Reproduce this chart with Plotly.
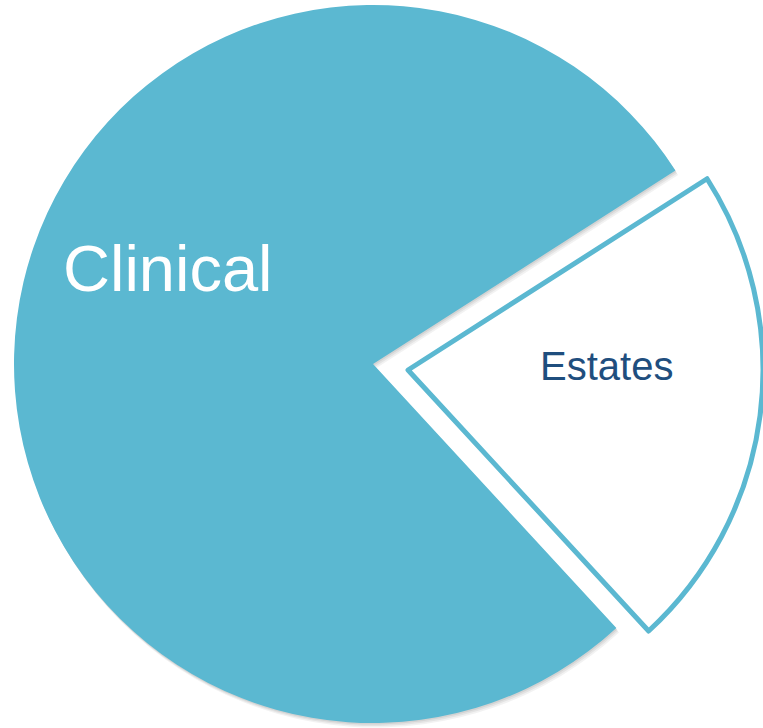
import plotly.graph_objects as go

# Data
categories = ["Estates", "Clinical"]
values = [22.2, 77.8]
label_text = ["Estates", "Clinical"]

TEAL = "#5bb8d1"
CLEAR = "rgba(0,0,0,0)"
W, H = 763, 728


def dom(cx, cy, r):
    """Domain in paper fractions for a pie of radius r centred at (cx, cy) px (y from top)."""
    x0, x1 = (cx - r) / W, (cx + r) / W
    yb = H - cy
    y0, y1 = (yb - r) / H, (yb + r) / H
    return dict(x=[max(0, x0), min(1, x1)], y=[max(0, y0), min(1, y1)])


common = dict(
    labels=categories,
    values=values,
    sort=False,
    direction="clockwise",
    rotation=57.4,
    textinfo="none",
    hoverinfo="label+percent",
    showlegend=False,
)

CLIN = (373, 364, 359)
EST = (408, 370, 355)

fig = go.Figure()

# soft shadow layers
for i, a in enumerate([0.07, 0.06, 0.05]):
    off = 1.5 * (i + 1)
    fig.add_trace(go.Pie(
        **common,
        domain=dom(CLIN[0] + off * 0.6, CLIN[1] + off, CLIN[2]),
        marker=dict(colors=[CLEAR, f"rgba(0,0,0,{a})"], line=dict(width=0)),
    ))
    fig.add_trace(go.Pie(
        **common,
        domain=dom(EST[0], EST[1] + off, EST[2]),
        marker=dict(colors=[f"rgba(0,0,0,{a})", CLEAR], line=dict(width=0)),
    ))

# Clinical slice
fig.add_trace(go.Pie(
    **common,
    domain=dom(*CLIN),
    marker=dict(colors=[CLEAR, TEAL], line=dict(width=0)),
))

# Estates slice (pulled out)
fig.add_trace(go.Pie(
    **common,
    domain=dom(*EST),
    marker=dict(colors=["white", CLEAR],
                line=dict(color=[TEAL, CLEAR], width=[5, 0])),
))

fig.add_annotation(x=167.5 / W, y=1 - 268 / H, xref="paper", yref="paper",
                   xanchor="center", yanchor="middle",
                   text=label_text[1], showarrow=False,
                   font=dict(family="Liberation Sans, Arial", size=65, color="white"))
fig.add_annotation(x=606 / W, y=1 - 366 / H, xref="paper", yref="paper",
                   xanchor="center", yanchor="middle",
                   text=label_text[0], showarrow=False,
                   font=dict(family="Liberation Sans, Arial", size=40, color="#1f4e7e"))

fig.update_layout(
    width=W, height=H,
    margin=dict(l=0, r=0, t=0, b=0),
    paper_bgcolor="white",
    plot_bgcolor="white",
)

fig.write_html("out.html",
               config={"displayModeBar": False},
               post_script="document.body.style.margin='0';document.body.style.overflow='hidden';")
